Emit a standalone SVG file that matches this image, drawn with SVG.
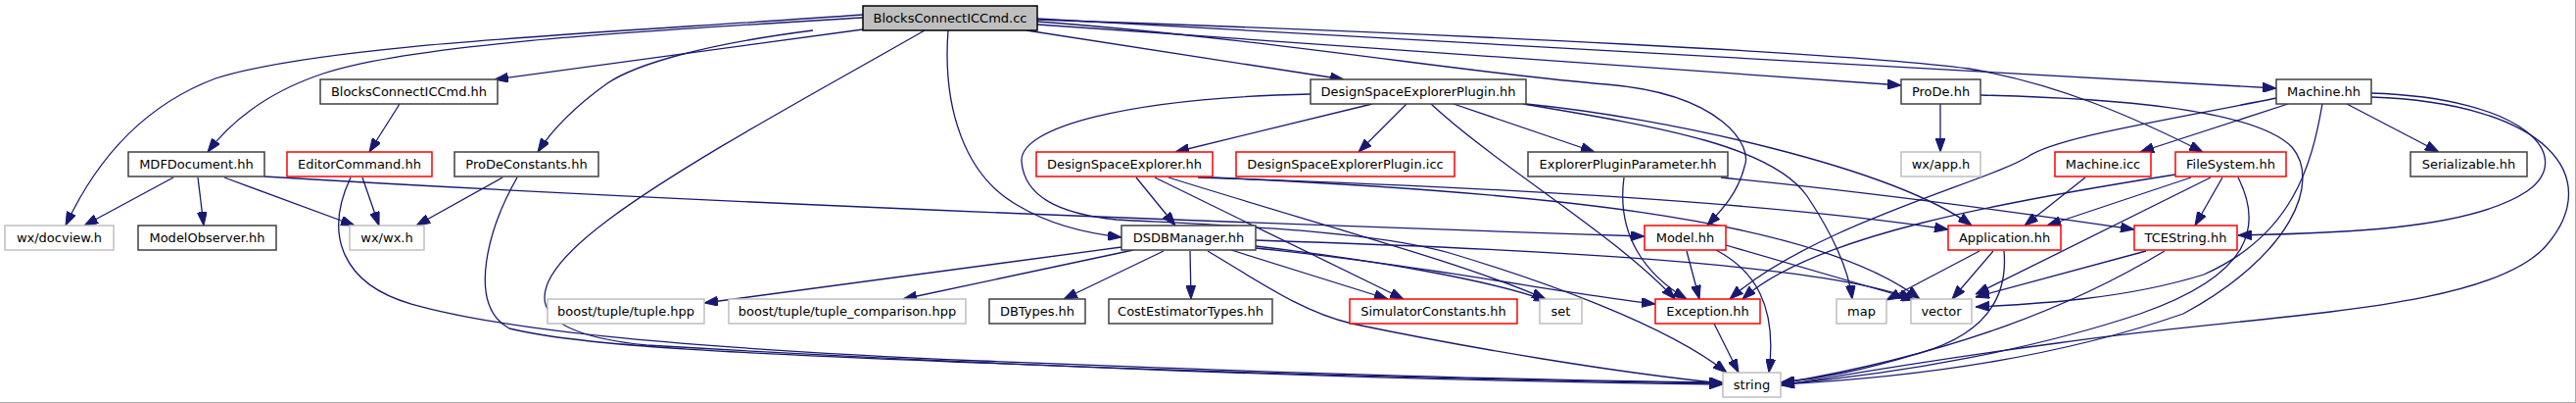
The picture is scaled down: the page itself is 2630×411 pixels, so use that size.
<svg xmlns="http://www.w3.org/2000/svg" width="2630" height="411" viewBox="0 0 2630 411">
<style>
.e{fill:none;stroke:#191970;stroke-width:1.3;marker-end:url(#ah)}
.n rect{fill:#ffffff;stroke:#404040;stroke-width:1.5}
.n.r rect{stroke:#ff0000}
.n.g rect{stroke:#bfbfbf}
.n.root rect{fill:#bfbfbf;stroke:#000000}
.n text{font-family:"DejaVu Sans","Liberation Sans",sans-serif;font-size:13px;fill:#000000;text-anchor:middle}
</style>
<defs>
<marker id="ah" markerUnits="userSpaceOnUse" markerWidth="14" markerHeight="10" refX="14" refY="5" orient="auto">
<path d="M0,0 L14,5 L0,10 z" fill="#191970" stroke="#191970" stroke-width="1"/>
</marker>
</defs>
<rect x="0" y="0" width="2630" height="411" fill="#ffffff"/>
<line x1="0" y1="410.5" x2="2630" y2="410.5" stroke="#aaaaaa" stroke-width="1"/>
<line x1="2629.5" y1="0" x2="2629.5" y2="411" stroke="#aaaaaa" stroke-width="1"/>
<g id="edges">
<path class="e" d="M881,15 C600,35 330,45 220,80 C140,110 95,170 67,230"/>
<path class="e" d="M881,18 C650,32 420,45 330,75 C270,95 235,125 212,155"/>
<path class="e" d="M881,30 L505,81"/>
<path class="e" d="M830,31 C720,45 650,65 620,85 C585,110 562,135 549,155"/>
<path class="e" d="M968,31 C962,110 985,180 1040,210 C1070,228 1110,238 1145,242"/>
<path class="e" d="M944,31 C850,85 700,165 620,225 C520,300 540,340 660,352 C1000,372 1400,388 1759,392"/>
<path class="e" d="M1048,31 L1372,81"/>
<path class="e" d="M1059,22 C1300,40 1500,75 1640,86 C1760,96 1790,150 1781,170 C1775,195 1760,212 1743,230"/>
<path class="e" d="M1059,25 L1941,87"/>
<path class="e" d="M1059,20 C1500,35 1900,55 2010,70 C2100,85 2180,120 2249,155"/>
<path class="e" d="M1059,19 L2324,90"/>
<path class="e" d="M408,106 L377,155"/>
<path class="e" d="M177,181 L86,230"/>
<path class="e" d="M202,181 L208,230"/>
<path class="e" d="M229,181 L362,230"/>
<path class="e" d="M270,180 C600,200 1100,222 1679,241"/>
<path class="e" d="M358,181 C330,240 350,290 420,310 C520,338 700,355 1000,368 C1300,380 1550,388 1759,390"/>
<path class="e" d="M370,181 L387,230"/>
<path class="e" d="M513,181 L425,230"/>
<path class="e" d="M528,181 C500,230 475,310 520,335 C600,355 800,362 1000,370 C1300,382 1550,388 1759,391"/>
<path class="e" d="M1401,106 L1200,155"/>
<path class="e" d="M1436,106 L1387,155"/>
<path class="e" d="M1484,106 L1628,155"/>
<path class="e" d="M1461,106 C1530,170 1650,240 1710,305"/>
<path class="e" d="M1555,106 C1700,130 1810,150 1845,200 C1875,245 1888,280 1891,305"/>
<path class="e" d="M1558,106 C1700,120 1930,170 2013,230"/>
<path class="e" d="M1338,96 C1150,100 1040,130 1043,165 C1046,200 1080,218 1140,224 C1250,230 1400,235 1480,258 C1570,285 1700,330 1763,380"/>
<path class="e" d="M1160,181 L1200,230"/>
<path class="e" d="M1179,181 L1433,305"/>
<path class="e" d="M1193,181 C1350,230 1500,270 1578,305"/>
<path class="e" d="M1223,181 C1500,190 1800,205 1989,234"/>
<path class="e" d="M1238,181 C1550,195 1850,220 1960,305"/>
<path class="e" d="M1145,252 L719,309"/>
<path class="e" d="M1157,255 L922,305"/>
<path class="e" d="M1188,256 L1086,305"/>
<path class="e" d="M1215,256 L1216,305"/>
<path class="e" d="M1257,255 L1417,305"/>
<path class="e" d="M1233,256 C1290,290 1330,318 1380,330 C1500,355 1650,380 1759,391"/>
<path class="e" d="M1282,251 C1400,265 1520,285 1580,307"/>
<path class="e" d="M1282,253 C1450,270 1600,300 1690,310"/>
<path class="e" d="M1282,245 C1500,252 1850,265 1953,305"/>
<path class="e" d="M1658,181 C1650,240 1680,280 1722,305"/>
<path class="e" d="M1757,181 C1900,195 2050,215 2179,234"/>
<path class="e" d="M1722,256 L1735,305"/>
<path class="e" d="M1752,255 C1790,275 1815,310 1806,380"/>
<path class="e" d="M1762,250 L1955,306"/>
<path class="e" d="M1750,330 L1775,380"/>
<path class="e" d="M2021,256 L1926,306"/>
<path class="e" d="M2035,256 L1993,305"/>
<path class="e" d="M2046,256 C2050,300 2030,340 1960,360 C1900,378 1860,386 1818,390"/>
<path class="e" d="M2191,256 L2017,303"/>
<path class="e" d="M2210,256 C2120,310 2000,360 1818,391"/>
<path class="e" d="M2221,178 C2050,205 1850,240 1779,305"/>
<path class="e" d="M2237,181 L2090,230"/>
<path class="e" d="M2257,181 L2017,300"/>
<path class="e" d="M2269,181 L2241,230"/>
<path class="e" d="M2285,181 C2310,230 2300,280 2185,320 C2080,355 1950,380 1818,392"/>
<path class="e" d="M2129,181 L2067,230"/>
<path class="e" d="M2324,100 C2200,125 2100,140 2070,160 C2030,185 1850,230 1766,305"/>
<path class="e" d="M2336,106 L2185,155"/>
<path class="e" d="M2396,106 L2490,155"/>
<path class="e" d="M2421,95 C2580,100 2630,160 2580,195 C2520,235 2380,238 2285,240"/>
<path class="e" d="M2421,99 C2600,105 2660,180 2600,250 C2540,320 2300,320 2100,350 C1950,370 1870,385 1818,393"/>
<path class="e" d="M2371,106 C2360,170 2340,240 2250,280 C2170,305 2080,310 2017,313"/>
<path class="e" d="M1981,106 L1981,155"/>
<path class="e" d="M2022,97 C2150,100 2300,110 2340,150 C2370,185 2340,260 2229,320 C2100,365 1950,385 1818,392"/>
</g>
<g id="n_root" class="n root"><rect x="881" y="6" width="178" height="25"/><text x="970" y="23">BlocksConnectICCmd.cc</text></g>
<g id="n_bcichh" class="n"><rect x="327" y="81" width="181" height="25"/><text x="417.5" y="98">BlocksConnectICCmd.hh</text></g>
<g id="n_dseplugin" class="n"><rect x="1338" y="81" width="220" height="25"/><text x="1448" y="98">DesignSpaceExplorerPlugin.hh</text></g>
<g id="n_prode" class="n"><rect x="1941" y="81" width="81" height="25"/><text x="1981.5" y="98">ProDe.hh</text></g>
<g id="n_machine" class="n"><rect x="2324" y="81" width="97" height="25"/><text x="2372.5" y="98">Machine.hh</text></g>
<g id="n_mdf" class="n"><rect x="131" y="155" width="139" height="25"/><text x="200.5" y="172">MDFDocument.hh</text></g>
<g id="n_editorcmd" class="n r"><rect x="293" y="155" width="148" height="25"/><text x="367" y="172">EditorCommand.hh</text></g>
<g id="n_prodeconst" class="n"><rect x="464" y="155" width="147" height="25"/><text x="537.5" y="172">ProDeConstants.hh</text></g>
<g id="n_dse" class="n r"><rect x="1058" y="155" width="180" height="25"/><text x="1148" y="172">DesignSpaceExplorer.hh</text></g>
<g id="n_dsepluginicc" class="n r"><rect x="1262" y="155" width="223" height="25"/><text x="1373.5" y="172">DesignSpaceExplorerPlugin.icc</text></g>
<g id="n_epp" class="n"><rect x="1560" y="155" width="204" height="25"/><text x="1662" y="172">ExplorerPluginParameter.hh</text></g>
<g id="n_wxapp" class="n g"><rect x="1941" y="155" width="81" height="25"/><text x="1981.5" y="172">wx/app.h</text></g>
<g id="n_machineicc" class="n r"><rect x="2098" y="155" width="98" height="25"/><text x="2147" y="172">Machine.icc</text></g>
<g id="n_filesystem" class="n r"><rect x="2221" y="155" width="113" height="25"/><text x="2277.5" y="172">FileSystem.hh</text></g>
<g id="n_serializable" class="n"><rect x="2461" y="155" width="119" height="25"/><text x="2520.5" y="172">Serializable.hh</text></g>
<g id="n_docview" class="n g"><rect x="5" y="230" width="111" height="25"/><text x="60.5" y="247">wx/docview.h</text></g>
<g id="n_modelobs" class="n"><rect x="141" y="230" width="141" height="25"/><text x="211.5" y="247">ModelObserver.hh</text></g>
<g id="n_wxwx" class="n g"><rect x="357" y="230" width="76" height="25"/><text x="395" y="247">wx/wx.h</text></g>
<g id="n_dsdb" class="n"><rect x="1145" y="230" width="137" height="25"/><text x="1213.5" y="247">DSDBManager.hh</text></g>
<g id="n_model" class="n r"><rect x="1679" y="230" width="83" height="25"/><text x="1720.5" y="247">Model.hh</text></g>
<g id="n_application" class="n r"><rect x="1989" y="230" width="115" height="25"/><text x="2046.5" y="247">Application.hh</text></g>
<g id="n_tcestring" class="n r"><rect x="2179" y="230" width="105" height="25"/><text x="2231.5" y="247">TCEString.hh</text></g>
<g id="n_tuple" class="n g"><rect x="559" y="305" width="160" height="25"/><text x="639" y="322">boost/tuple/tuple.hpp</text></g>
<g id="n_tuplecmp" class="n g"><rect x="744" y="305" width="242" height="25"/><text x="865" y="322">boost/tuple/tuple_comparison.hpp</text></g>
<g id="n_dbtypes" class="n"><rect x="1010" y="305" width="98" height="25"/><text x="1059" y="322">DBTypes.hh</text></g>
<g id="n_costest" class="n"><rect x="1132" y="305" width="167" height="25"/><text x="1215.5" y="322">CostEstimatorTypes.hh</text></g>
<g id="n_simconst" class="n r"><rect x="1378" y="305" width="171" height="25"/><text x="1463.5" y="322">SimulatorConstants.hh</text></g>
<g id="n_set" class="n g"><rect x="1572" y="305" width="43" height="25"/><text x="1593.5" y="322">set</text></g>
<g id="n_exception" class="n r"><rect x="1690" y="305" width="107" height="25"/><text x="1743.5" y="322">Exception.hh</text></g>
<g id="n_map" class="n g"><rect x="1875" y="305" width="51" height="25"/><text x="1900.5" y="322">map</text></g>
<g id="n_vector" class="n g"><rect x="1951" y="305" width="62" height="25"/><text x="1982" y="322">vector</text></g>
<g id="n_string" class="n g"><rect x="1759" y="380" width="59" height="25"/><text x="1788.5" y="397">string</text></g>
</svg>
